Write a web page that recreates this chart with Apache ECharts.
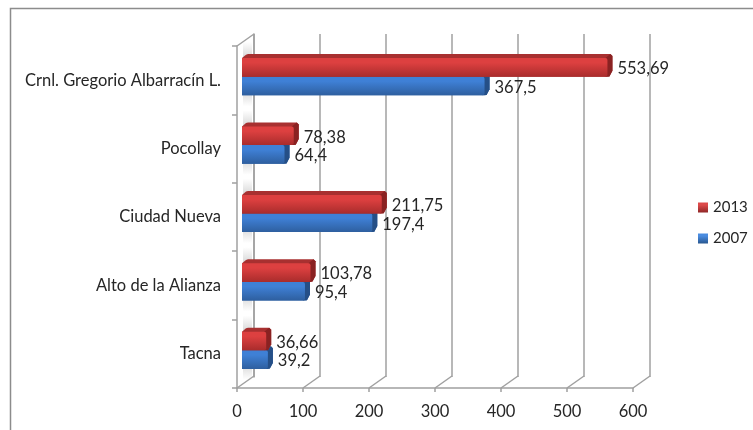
<!DOCTYPE html>
<html><head><meta charset="utf-8">
<script src="https://cdn.jsdelivr.net/npm/echarts@6/dist/echarts.min.js"></script>
<style>html,body{margin:0;padding:0;background:#fff}#c{width:753px;height:430px}</style>
</head><body><div id="c"></div>
<script>
var categories = ['Crnl. Gregorio Albarracín L.', 'Pocollay', 'Ciudad Nueva', 'Alto de la Alianza', 'Tacna'];
var values2013 = [553.69, 78.38, 211.75, 103.78, 36.66];
var values2007 = [367.5, 64.4, 197.4, 95.4, 39.2];
var axisTicks = [0, 100, 200, 300, 400, 500, 600];

var FONT = 'Lato, "Open Sans", sans-serif';
var FS = 16.5;
var LINE = '#a0a0a0', TEXT = '#262626';
var DX = 17, DY = -12;           // floor depth
var BDX = 5, BDY = -4;           // bar depth
var OFFX = 5, OFFY = -3.5;       // bar offset from the front plane

function vgrad(a, b) {
  return {type:'linear',x:0,y:0,x2:0,y2:1,colorStops:[{offset:0,color:a},{offset:0.25,color:a},{offset:1,color:b}]};
}
var palette = {
  '2013': {front:vgrad('#dd4040','#a92c2c'), top:'#a83030', side:'#8a2222', legend:vgrad('#dd4a4a','#8f2626')},
  '2007': {front:vgrad('#3f80d6','#2e5f9f'), top:'#2f62a5', side:'#254f87', legend:vgrad('#4a8ce0','#28568f')}
};

function barItem(name, slot) {
  var pal = palette[name];
  return function (params, api) {
    var v = api.value(0), idx = api.value(1);
    var band = api.size([0, 1])[1];
    var h = band * 0.272;
    var end = api.coord([v, idx]);
    var start = api.coord([0, idx]);
    var x0 = start[0] + OFFX, x1 = end[0] + OFFX;
    var y = end[1] + OFFY + (slot === 0 ? -h : 0);
    var c = 2;
    var back = [
      [x0, y], [x0 + BDX - 1, y + BDY + 0.6], [x0 + BDX + 1, y + BDY],
      [x1 + BDX - c, y + BDY], [x1 + BDX, y + BDY + c],
      [x1 + BDX, y + h + BDY - c], [x1 + c, y + h - 0.3], [x1, y + h], [x0, y + h]
    ];
    var side = [
      [x1 - c, y], [x1 + BDX - c, y + BDY], [x1 + BDX, y + BDY + c],
      [x1 + BDX, y + h + BDY - c], [x1 + c, y + h - 0.3], [x1 - c, y + h]
    ];
    return {type:'group', children:[
      {type:'polygon', shape:{points:back}, style:{fill:pal.top}},
      {type:'polygon', shape:{points:side}, style:{fill:pal.side}},
      {type:'rect', shape:{x:x0, y:y, width:x1 - x0, height:h, r:[0,2,2,0]}, style:{fill:pal.front}},
      {type:'text', style:{text:String(v).replace('.', ','), x:x1 + BDX + 5, y:y + h / 2 + 1.5,
        fill:TEXT, font:FS + 'px ' + FONT, textVerticalAlign:'middle', textAlign:'left'}}
    ]};
  };
}

function connector(x, y) {
  return {type:'line', shape:{x1:x, y1:y, x2:x + DX, y2:y + DY}, style:{stroke:LINE, lineWidth:1.5, fill:'none'}};
}

var catIdx = categories.map(function (_, i) { return [i]; });

var option = {
  animation:false,
  backgroundColor:'#fff',
  graphic:[{type:'rect', z:-1, shape:{x:10.5, y:8.5, width:800, height:500}, style:{fill:'none', stroke:'#8c8c8c', lineWidth:1.5}}],
  legend:{data:['2013','2007'], orient:'vertical', left:693, top:195, itemWidth:10, itemHeight:10, itemGap:16,
    icon:'rect', textStyle:{fontFamily:FONT, fontSize:15, color:TEXT}, selectedMode:false},
  grid:[
    {left:237, top:46, width:396, height:342},
    {left:237 + DX, top:46 + DY, width:396, height:343}
  ],
  xAxis:[
    {gridIndex:0, type:'value', min:0, max:600, interval:100, position:'bottom',
      axisLine:{show:true, onZero:false, lineStyle:{color:LINE, width:1.5}},
      axisTick:{show:true, length:4, lineStyle:{color:LINE, width:1.5}},
      axisLabel:{color:TEXT, fontFamily:FONT, fontSize:FS, margin:15},
      splitLine:{show:false}},
    {gridIndex:1, type:'value', min:0, max:600, interval:100, position:'bottom',
      axisLine:{show:false}, axisTick:{show:false}, axisLabel:{show:false},
      splitLine:{show:true, lineStyle:{color:LINE, width:1.5}}}
  ],
  yAxis:[
    {gridIndex:0, type:'category', data:categories, inverse:true,
      axisLine:{show:true, onZero:false, lineStyle:{color:LINE, width:1.5}},
      axisTick:{show:true, length:5, alignWithLabel:false, lineStyle:{color:LINE, width:1.5}},
      axisLabel:{color:TEXT, fontFamily:FONT, fontSize:FS, margin:16, padding:[4,0,0,0]}},
    {gridIndex:1, type:'value', min:0, max:1, show:true,
      axisLine:{show:true, onZero:false, lineStyle:{color:LINE, width:1.5}},
      axisTick:{show:false}, axisLabel:{show:false}, splitLine:{show:false}}
  ],
  series:[
    {type:'custom', silent:true, xAxisIndex:0, yAxisIndex:0, z:1, data:axisTicks.map(function (t) { return [t]; }),
      encode:{x:0},
      renderItem:function (params, api) {
        var p = api.coord([api.value(0), categories.length - 1]);
        return connector(p[0], p[1] + api.size([0, 1])[1] / 2);
      }},
    {type:'custom', silent:true, xAxisIndex:0, yAxisIndex:0, z:1, data:[[0]],
      encode:{x:0},
      renderItem:function (params, api) {
        var p = api.coord([0, 0]);
        return connector(p[0], p[1] - api.size([0, 1])[1] / 2);
      }},
    {type:'custom', silent:true, xAxisIndex:0, yAxisIndex:0, z:1, data:catIdx,
      encode:{y:0},
      renderItem:function (params, api) {
        var c = api.coord([0, api.value(0)]);
        var band = api.size([0, 1])[1];
        return {type:'rect', shape:{x:c[0] + 6, y:c[1] - band / 2 - 4, width:9, height:band - 4},
          style:{fill:{type:'linear',x:0,y:0,x2:0,y2:1,colorStops:[
            {offset:0,color:'rgba(190,190,190,0)'},{offset:0.3,color:'rgba(190,190,190,0.75)'},
            {offset:0.7,color:'rgba(190,190,190,0.75)'},{offset:1,color:'rgba(190,190,190,0)'}]}}};
      }},
    {name:'2007', type:'custom', silent:true, z:3, xAxisIndex:0, yAxisIndex:0,
      itemStyle:{color:palette['2007'].legend},
      data:values2007.map(function (v, i) { return [v, i]; }), encode:{x:0, y:1},
      renderItem:barItem('2007', 1)},
    {name:'2013', type:'custom', silent:true, z:4, xAxisIndex:0, yAxisIndex:0,
      itemStyle:{color:palette['2013'].legend},
      data:values2013.map(function (v, i) { return [v, i]; }), encode:{x:0, y:1},
      renderItem:barItem('2013', 0)}
  ]
};
echarts.init(document.getElementById('c'), null, {renderer:'canvas'}).setOption(option);
</script>
</body></html>
